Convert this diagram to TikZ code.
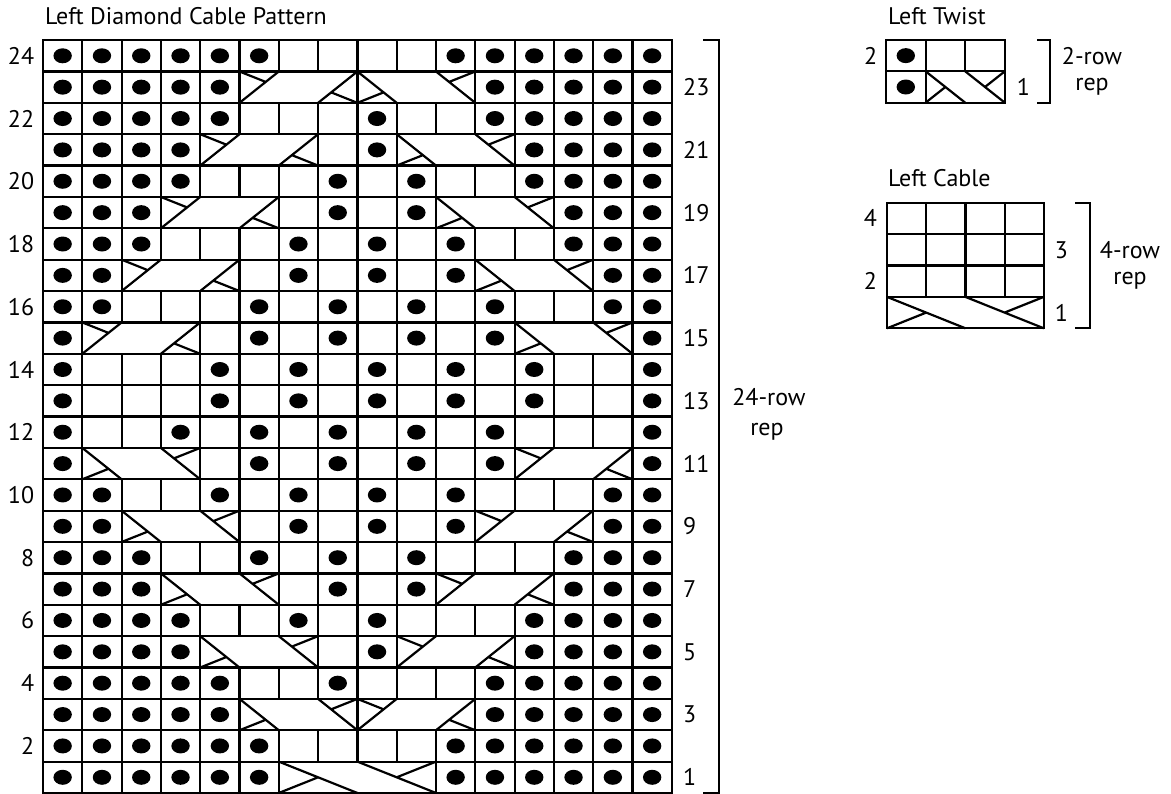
\documentclass[tikz,border=0pt]{standalone}
\usepackage{fontspec}
\setmainfont{PT Sans}
\tikzset{
  gridline/.style={line width=2.2pt, line join=miter},
  lbl/.style={font=\fontsize{24}{28}\selectfont, inner sep=0pt, text=black},
  bracketline/.style={line width=2.2pt, line join=miter}
}
% knit (blank) cell
\newcommand\kncell[2]{\draw[gridline] (#1-1,#2-1) rectangle (#1,#2);}
% purl (dot) cell
\newcommand\pucell[2]{\draw[gridline] (#1-1,#2-1) rectangle (#1,#2);
  \fill (#1-0.5,#2-0.5) ellipse [x radius=9.2pt, y radius=7.5pt];}
\newcommand\knrow[2]{\foreach \cc in {#2}{\kncell{\cc}{#1}}}
\newcommand\purow[2]{\foreach \cc in {#2}{\pucell{\cc}{#1}}}
% 3-stitch cable, strands leaning right (/)
\newcommand\rcab[2]{\begin{scope}[shift={(#1-1,#2-1)}]
  \draw[gridline] (0,0) rectangle (3,1);
  \draw[gridline] (0,0) -- (1,1) (2,0) -- (3,1) (0,1) -- (2/3,2/3) (7/3,1/3) -- (3,0);
\end{scope}}
% 3-stitch cable, strands leaning left (\)
\newcommand\lcab[2]{\begin{scope}[shift={(#1-1,#2-1)}]
  \draw[gridline] (0,0) rectangle (3,1);
  \draw[gridline] (0,1) -- (1,0) (2,1) -- (3,0) (0,0) -- (2/3,1/3) (7/3,2/3) -- (3,1);
\end{scope}}
% 4-stitch left cable
\newcommand\ccab[2]{\begin{scope}[shift={(#1-1,#2-1)}]
  \draw[gridline] (0,0) rectangle (4,1);
  \draw[gridline] (0,1) -- (2,0) (2,1) -- (4,0) (0,0) -- (1,0.5) (3,0.5) -- (4,1);
\end{scope}}
% 2-stitch left twist
\newcommand\tcab[2]{\begin{scope}[shift={(#1-1,#2-1)}]
  \draw[gridline] (0,0) rectangle (2,1);
  \draw[gridline] (0,1) -- (1,0) (1,1) -- (2,0) (0,0) -- (0.5,0.5) (1.5,0.5) -- (2,1);
\end{scope}}
\begin{document}
\begin{tikzpicture}[x=1pt,y=1pt]
\fill[white] (0,0) rectangle (1171,794);
\useasboundingbox (0,0) rectangle (1171,794);

\node[lbl, anchor=base west] (title) at (45,769) {Left Diamond Cable Pattern};

% ---------------- main chart ----------------
\begin{scope}[shift={(43pt,1pt)}, x=39.3pt, y=31.37pt]
\purow{24}{1,2,3,4,5,6,11,12,13,14,15,16} \knrow{24}{7,8,9,10}
\purow{23}{1,2,3,4,5,12,13,14,15,16} \rcab{6}{23} \lcab{9}{23}
\purow{22}{1,2,3,4,5,9,12,13,14,15,16} \knrow{22}{6,7,8,10,11}
\purow{21}{1,2,3,4,9,13,14,15,16} \knrow{21}{8} \rcab{5}{21} \lcab{10}{21}
\purow{20}{1,2,3,4,8,10,13,14,15,16} \knrow{20}{5,6,7,9,11,12}
\purow{19}{1,2,3,8,10,14,15,16} \knrow{19}{7,9} \rcab{4}{19} \lcab{11}{19}
\purow{18}{1,2,3,7,9,11,14,15,16} \knrow{18}{4,5,6,8,10,12,13}
\purow{17}{1,2,7,9,11,15,16} \knrow{17}{6,8,10} \rcab{3}{17} \lcab{12}{17}
\purow{16}{1,2,6,8,10,12,15,16} \knrow{16}{3,4,5,7,9,11,13,14}
\purow{15}{1,6,8,10,12,16} \knrow{15}{5,7,9,11} \rcab{2}{15} \lcab{13}{15}
\purow{14}{1,5,7,9,11,13,16} \knrow{14}{2,3,4,6,8,10,12,14,15}
\purow{13}{1,5,7,9,11,13,16} \knrow{13}{2,3,4,6,8,10,12,14,15}
\purow{12}{1,4,6,8,10,12,16} \knrow{12}{2,3,5,7,9,11,13,14,15}
\purow{11}{1,6,8,10,12,16} \knrow{11}{5,7,9,11} \lcab{2}{11} \rcab{13}{11}
\purow{10}{1,2,5,7,9,11,15,16} \knrow{10}{3,4,6,8,10,12,13,14}
\purow{9}{1,2,7,9,11,15,16} \knrow{9}{6,8,10} \lcab{3}{9} \rcab{12}{9}
\purow{8}{1,2,3,6,8,10,14,15,16} \knrow{8}{4,5,7,9,11,12,13}
\purow{7}{1,2,3,8,10,14,15,16} \knrow{7}{7,9} \lcab{4}{7} \rcab{11}{7}
\purow{6}{1,2,3,4,7,9,13,14,15,16} \knrow{6}{5,6,8,10,11,12}
\purow{5}{1,2,3,4,9,13,14,15,16} \knrow{5}{8} \lcab{5}{5} \rcab{10}{5}
\purow{4}{1,2,3,4,5,8,12,13,14,15,16} \knrow{4}{6,7,9,10,11}
\purow{3}{1,2,3,4,5,12,13,14,15,16} \lcab{6}{3} \rcab{9}{3}
\purow{2}{1,2,3,4,5,6,11,12,13,14,15,16} \knrow{2}{7,8,9,10}
\purow{1}{1,2,3,4,5,6,11,12,13,14,15,16} \ccab{7}{1}
\foreach \r in {2,4,...,24} {\node[lbl, anchor=east] (rnl\r) at (-0.22,\r-0.5) {\r};}
\foreach \r in {1,3,...,23} {\node[lbl, anchor=west] (rnr\r) at (16.285,\r-0.5) {\r};}
\end{scope}
\draw[bracketline] (703,754) -- (719,754) -- (719,1) -- (703,1);
\node[lbl] (mainrep1) at (769,397) {24-row};
\node[lbl] (mainrep2) at (767,362) {rep};

% ---------------- Left Twist ----------------
\node[lbl, anchor=base west] (twisttitle) at (888,769) {Left Twist};
\begin{scope}[shift={(886pt,691.3pt)}, x=39.6pt, y=31.37pt]
\purow{2}{1} \knrow{2}{2,3}
\purow{1}{1} \tcab{2}{1}
\node[lbl, anchor=east] (tw2) at (-0.22,1.5) {2};
\node[lbl, anchor=west] (tw1) at (3.3,0.5) {1};
\end{scope}
\draw[bracketline] (1037,754) -- (1050,754) -- (1050,691.3) -- (1037,691.3);
\node[lbl] (twrep1) at (1092,738) {2-row};
\node[lbl] (twrep2) at (1092,707) {rep};

% ---------------- Left Cable ----------------
\node[lbl, anchor=base west] (cabletitle) at (888,607) {Left Cable};
\begin{scope}[shift={(887pt,465.7pt)}, x=39.2pt, y=31.4pt]
\knrow{4}{1,2,3,4}
\knrow{3}{1,2,3,4}
\knrow{2}{1,2,3,4}
\ccab{1}{1}
\node[lbl, anchor=east] (cb4) at (-0.25,3.5) {4};
\node[lbl, anchor=east] (cb2) at (-0.25,1.5) {2};
\node[lbl, anchor=west] (cb3) at (4.28,2.5) {3};
\node[lbl, anchor=west] (cb1) at (4.28,0.5) {1};
\end{scope}
\draw[bracketline] (1075,591.3) -- (1090,591.3) -- (1090,465.7) -- (1075,465.7);
\node[lbl] (cbrep1) at (1130,544) {4-row};
\node[lbl] (cbrep2) at (1130,513) {rep};
\end{tikzpicture}
\end{document}
